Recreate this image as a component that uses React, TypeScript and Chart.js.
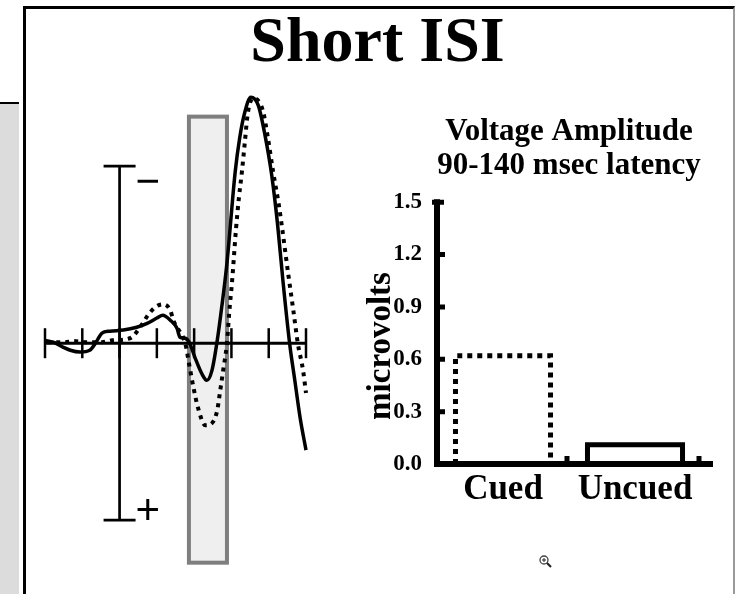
import React, { useEffect, useRef } from "react";
import { Chart, registerables } from "chart.js";

Chart.register(...registerables);

// ---------- ERP waveform data (time in ms, amplitude in µV, negative up) ----------
const solidMs = [-100, -89, -76, -66, -53, -40, -30, -24, -13, 5, 23, 37, 50, 58, 68, 77, 81, 88, 94, 101, 110, 117, 124, 131, 137, 144, 155, 161, 168, 176, 186, 195, 204, 212, 219, 228, 235, 242, 250];
const solidUv = [-0.08, -0.03, 0.11, 0.2, 0.25, 0.2, -0.08, -0.28, -0.34, -0.37, -0.45, -0.56, -0.71, -0.79, -0.65, -0.42, -0.17, -0.14, 0, 0.4, 0.85, 1.05, 0.76, -0.08, -1.02, -2.26, -4.83, -5.79, -6.53, -6.95, -6.72, -5.88, -4.75, -3.33, -1.78, 0, 1.05, 2.09, 3.02];

const dottedMs = [-97, -73, -63, -46, -24, -10, 14, 31, 38, 48, 58, 68, 72, 77, 88, 94, 99, 105, 115, 125, 131, 135, 139, 144, 147, 151, 156, 160, 164, 168, 172, 179, 192, 199, 206, 213, 218, 226, 233, 239, 246, 250];
const dottedUv = [-0.03, -0.03, -0.06, -0.03, -0.03, -0.08, -0.14, -0.56, -0.79, -1.02, -1.1, -0.93, -0.65, -0.45, 0, 0.68, 1.24, 1.81, 2.32, 2.23, 1.89, 1.33, 0.76, 0, -0.85, -1.78, -3.19, -4.1, -4.83, -5.68, -6.5, -6.92, -6.58, -5.79, -4.83, -3.98, -3.25, -1.98, -0.93, 0, 0.76, 1.41];

const erpTicksMs = [-100, -50, 0, 50, 100, 150, 200, 250];
const windowMs = [93, 144];
const windowUv = [-6.4, 6.2];
const calibrationUv = [-5, 5];

// ---------- Bar chart data ----------
const barCategories = ["Cued", "Uncued"];
const barValues = [0.62, 0.11];
const barTicks = [0, 0.3, 0.6, 0.9, 1.2, 1.5];
const barTitle = ["Voltage Amplitude", "90-140 msec latency"];
const barAxisTitle = "microvolts";
const pageTitle = "Short ISI";

const SERIF = '"Liberation Serif", "Times New Roman", serif';
const SANS = '"Liberation Sans", Arial, sans-serif';

const erpDecor = {
  id: "erpDecor",
  beforeDatasetsDraw(chart: any) {
    const { ctx, scales } = chart;
    const x = scales.x;
    const y = scales.y;
    ctx.save();
    // highlighted latency window
    const bx0 = x.getPixelForValue(windowMs[0]);
    const bx1 = x.getPixelForValue(windowMs[1]);
    const by0 = y.getPixelForValue(windowUv[0]);
    const by1 = y.getPixelForValue(windowUv[1]);
    ctx.fillStyle = "#efefef";
    ctx.fillRect(bx0, by0, bx1 - bx0, by1 - by0);
    ctx.strokeStyle = "#7f7f7f";
    ctx.lineWidth = 4;
    ctx.strokeRect(bx0, by0, bx1 - bx0, by1 - by0);

    // time axis
    const y0 = y.getPixelForValue(0);
    ctx.strokeStyle = "#000";
    ctx.lineWidth = 3;
    ctx.beginPath();
    ctx.moveTo(x.getPixelForValue(erpTicksMs[0]), y0);
    ctx.lineTo(x.getPixelForValue(erpTicksMs[erpTicksMs.length - 1]), y0);
    ctx.stroke();
    ctx.lineWidth = 2.5;
    erpTicksMs.forEach((t) => {
      const px = x.getPixelForValue(t);
      ctx.beginPath();
      ctx.moveTo(px, y0 - 15);
      ctx.lineTo(px, y0 + 15);
      ctx.stroke();
    });

    // calibration bar
    const cx = x.getPixelForValue(0);
    const cTop = y.getPixelForValue(calibrationUv[0]);
    const cBot = y.getPixelForValue(calibrationUv[1]);
    ctx.lineWidth = 2.7;
    ctx.beginPath();
    ctx.moveTo(cx, cTop);
    ctx.lineTo(cx, cBot);
    ctx.moveTo(cx - 16, cTop);
    ctx.lineTo(cx + 16, cTop);
    ctx.moveTo(cx - 16, cBot);
    ctx.lineTo(cx + 16, cBot);
    ctx.stroke();

    ctx.fillStyle = "#000";
    ctx.font = `42px ${SANS}`;
    ctx.textAlign = "left";
    ctx.textBaseline = "alphabetic";
    ctx.fillText("\u2212", cx + 16, cTop + 29);
    ctx.fillText("+", cx + 16, cBot + 4);
    ctx.restore();
  },
};

const barDecor = {
  id: "barDecor",
  afterDatasetsDraw(chart: any) {
    const { ctx, scales, chartArea } = chart;
    const x = scales.x;
    const y = scales.y;
    ctx.save();
    ctx.strokeStyle = "#000";
    ctx.lineCap = "butt";
    // bars outlines
    const meta = chart.getDatasetMeta(0);
    meta.data.forEach((bar: any, i: number) => {
      const p = bar.getProps(["x", "y", "base", "width"], true);
      const l = p.x - p.width / 2;
      const r = p.x + p.width / 2;
      ctx.lineWidth = 5;
      ctx.setLineDash(i === 0 ? [5, 5] : []);
      ctx.beginPath();
      ctx.moveTo(l, p.base);
      ctx.lineTo(l, p.y);
      ctx.lineTo(r, p.y);
      ctx.lineTo(r, p.base);
      ctx.stroke();
    });
    ctx.setLineDash([]);

    // y axis
    const ax = chartArea.left;
    const yTop = y.getPixelForValue(barTicks[barTicks.length - 1]);
    const yBot = y.getPixelForValue(0);
    ctx.lineWidth = 6;
    ctx.beginPath();
    ctx.moveTo(ax, yTop - 3);
    ctx.lineTo(ax, yBot + 3);
    ctx.stroke();
    ctx.lineWidth = 5;
    ctx.beginPath();
    ctx.moveTo(ax - 5, yTop);
    ctx.lineTo(ax + 7, yTop);
    barTicks.slice(1, -1).forEach((v) => {
      const py = y.getPixelForValue(v);
      ctx.moveTo(ax, py);
      ctx.lineTo(ax + 8, py);
    });
    ctx.stroke();

    // x axis
    ctx.lineWidth = 6;
    ctx.beginPath();
    ctx.moveTo(ax - 3, yBot);
    ctx.lineTo(chartArea.right + 12, yBot);
    ctx.stroke();
    const step = x.getPixelForValue(1) - x.getPixelForValue(0);
    ctx.lineWidth = 5;
    ctx.beginPath();
    barCategories.forEach((_, i) => {
      const bx = x.getPixelForValue(i) + step / 2 - 2;
      ctx.moveTo(bx, yBot - 8);
      ctx.lineTo(bx, yBot);
    });
    ctx.stroke();

    // axis title
    ctx.fillStyle = "#000";
    ctx.font = `bold 33px ${SERIF}`;
    ctx.textAlign = "center";
    ctx.textBaseline = "middle";
    ctx.translate(381, 346);
    ctx.rotate(-Math.PI / 2);
    ctx.fillText(barAxisTitle, 0, 0);
    ctx.restore();
  },
};

export default function App() {
  const erpRef = useRef<HTMLCanvasElement>(null);
  const barRef = useRef<HTMLCanvasElement>(null);

  useEffect(() => {
    const erp = new Chart(erpRef.current as HTMLCanvasElement, {
      type: "line",
      data: {
        datasets: [
          {
            data: solidMs.map((t, i) => ({ x: t, y: solidUv[i] })),
            borderColor: "#000",
            borderWidth: 3.5,
            pointRadius: 0,
            cubicInterpolationMode: "monotone",
            fill: false,
            clip: false,
          },
          {
            data: dottedMs.map((t, i) => ({ x: t, y: dottedUv[i] })),
            borderColor: "#000",
            borderWidth: 4,
            borderDash: [4, 5],
            borderCapStyle: "butt",
            pointRadius: 0,
            cubicInterpolationMode: "monotone",
            fill: false,
            clip: false,
          },
        ],
      } as any,
      options: {
        animation: false,
        responsive: false,
        maintainAspectRatio: false,
        events: [],
        layout: { padding: { left: 45, right: 429, top: 60, bottom: 3 } },
        plugins: { legend: { display: false }, tooltip: { enabled: false } },
        scales: {
          x: { type: "linear", min: -100, max: 250, display: false },
          y: { type: "linear", min: -8, max: 7, reverse: true, display: false },
        },
      } as any,
      plugins: [erpDecor],
    });

    const bar = new Chart(barRef.current as HTMLCanvasElement, {
      type: "bar",
      data: {
        labels: barCategories,
        datasets: [
          {
            data: barValues,
            backgroundColor: "rgba(0,0,0,0)",
            borderWidth: 0,
            barPercentage: 0.72,
            categoryPercentage: 1,
          },
        ],
      },
      options: {
        animation: false,
        responsive: false,
        maintainAspectRatio: false,
        events: [],
        layout: { padding: { left: 357, right: 34, top: 115, bottom: 80 } },
        plugins: {
          legend: { display: false },
          tooltip: { enabled: false },
          title: {
            display: true,
            fullSize: false,
            text: barTitle,
            color: "#000",
            font: { family: SERIF, size: 31, weight: "bold", lineHeight: 1.1 },
            padding: { top: 0, bottom: 19 },
          },
        },
        scales: {
          x: {
            grid: { display: false, drawTicks: false },
            border: { display: false },
            ticks: {
              color: "#000",
              font: { family: SERIF, size: 35, weight: "bold" },
              padding: 5,
              maxRotation: 0,
              autoSkip: false,
            },
            afterFit: (s: any) => {
              s.height = 50;
            },
          },
          y: {
            min: 0,
            max: 1.5,
            grid: { display: false, drawTicks: false },
            border: { display: false },
            afterBuildTicks: (s: any) => {
              s.ticks = barTicks.map((v) => ({ value: v }));
            },
            ticks: {
              color: "#000",
              font: { family: SERIF, size: 23, weight: "bold" },
              padding: 15,
              callback: (v: any) => Number(v).toFixed(1),
            },
            afterFit: (s: any) => {
              s.width = 80;
            },
          },
        },
      } as any,
      plugins: [barDecor],
    });

    return () => {
      erp.destroy();
      bar.destroy();
    };
  }, []);

  return (
    <div
      style={{
        position: "absolute",
        left: 0,
        top: 0,
        width: 735,
        height: 594,
        background: "#fff",
        overflow: "hidden",
      }}
    >
      <div
        style={{
          position: "absolute",
          left: 0,
          top: 102,
          width: 19,
          height: 492,
          background: "#dcdcdc",
          borderTop: "2px solid #000",
          boxSizing: "border-box",
        }}
      />
      <div
        style={{
          position: "absolute",
          left: 23,
          top: 6,
          width: 712,
          height: 600,
          borderTop: "3px solid #000",
          borderLeft: "3px solid #000",
          borderRight: "2px solid #9a9a9a",
          boxSizing: "border-box",
        }}
      />
      <div
        style={{
          position: "absolute",
          left: 0,
          top: 8,
          width: 755,
          textAlign: "center",
          fontFamily: SERIF,
          fontWeight: "bold",
          fontSize: 64,
          lineHeight: "64px",
          color: "#000",
        }}
      >
        {pageTitle}
      </div>
      <canvas ref={erpRef} width={735} height={594} style={{ position: "absolute", left: 0, top: 0 }} />
      <canvas ref={barRef} width={735} height={594} style={{ position: "absolute", left: 0, top: 0 }} />
      <svg
        width={16}
        height={16}
        style={{ position: "absolute", left: 538, top: 554 }}
        viewBox="0 0 16 16"
      >
        <circle cx={6} cy={6} r={4} fill="#fff" stroke="#444" strokeWidth={1.3} />
        <line x1={4} y1={6} x2={8} y2={6} stroke="#444" strokeWidth={1.2} />
        <line x1={6} y1={4} x2={6} y2={8} stroke="#444" strokeWidth={1.2} />
        <line x1={9} y1={9} x2={13} y2={13} stroke="#222" strokeWidth={2.2} />
      </svg>
    </div>
  );
}
